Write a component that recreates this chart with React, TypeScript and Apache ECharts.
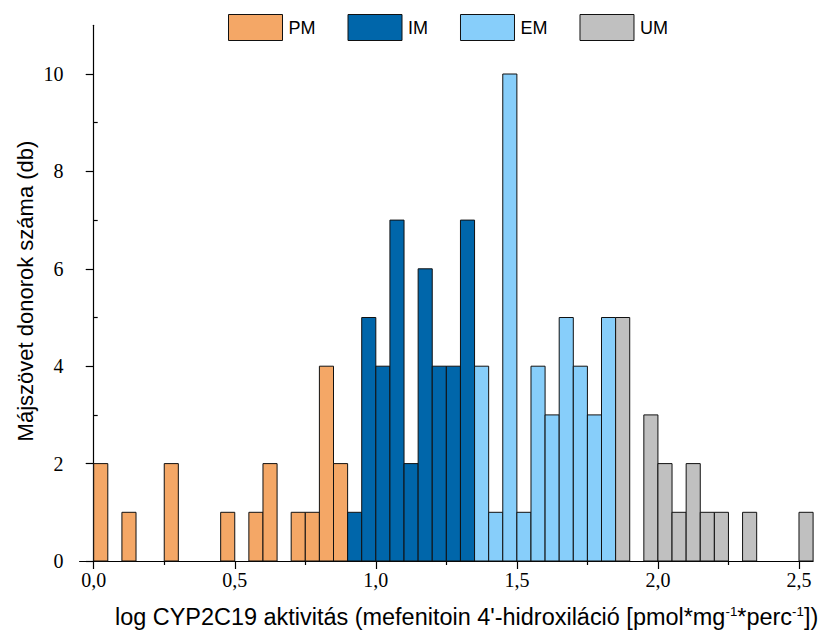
import React, { useEffect, useRef } from "react";
import * as echarts from "echarts";

const BIN_WIDTH = 0.05;

const pmBins = [0.0, 0.1, 0.25, 0.45, 0.55, 0.6, 0.7, 0.75, 0.8, 0.85];
const pmCounts = [2, 1, 2, 1, 1, 2, 1, 1, 4, 2];

const imBins = [0.9, 0.95, 1.0, 1.05, 1.1, 1.15, 1.2, 1.25, 1.3];
const imCounts = [1, 5, 4, 7, 2, 6, 4, 4, 7];

const emBins = [1.35, 1.4, 1.45, 1.5, 1.55, 1.6, 1.65, 1.7, 1.75, 1.8];
const emCounts = [4, 1, 10, 1, 4, 3, 5, 4, 3, 5];

const umBins = [1.85, 1.95, 2.0, 2.05, 2.1, 2.15, 2.2, 2.3, 2.5];
const umCounts = [5, 3, 2, 1, 2, 1, 1, 1, 1];

const xMajorTicks = [0, 0.5, 1.0, 1.5, 2.0, 2.5];
const xMinorTicks = [0.25, 0.75, 1.25, 1.75, 2.25];
const yMajorTicks = [0, 2, 4, 6, 8, 10];
const yMinorTicks = [1, 3, 5, 7, 9];

const groups = [
  { name: "PM", bins: pmBins, counts: pmCounts, color: "#F4A766" },
  { name: "IM", bins: imBins, counts: imCounts, color: "#0066AA" },
  { name: "EM", bins: emBins, counts: emCounts, color: "#87CEFA" },
  { name: "UM", bins: umBins, counts: umCounts, color: "#C0C0C0" },
];

const SANS = "'Liberation Sans', Arial, sans-serif";
const SERIF = "'Liberation Serif', 'Times New Roman', serif";

export default function App() {
  const ref = useRef<HTMLDivElement>(null);

  useEffect(() => {
    if (!ref.current) return;
    const chart = echarts.init(ref.current, undefined, { renderer: "svg" });

    const series = groups.map((g) => ({
      name: g.name,
      type: "custom",
      xAxisIndex: 0,
      yAxisIndex: 0,
      itemStyle: { color: g.color, borderColor: "#111", borderWidth: 1 },
      encode: { x: 0, y: 1 },
      data: g.bins.map((b, i) => [b, g.counts[i]]),
      renderItem: (params: any, api: any) => {
        const x0 = api.value(0);
        const c = api.value(1);
        const p0 = api.coord([x0, c]);
        const p1 = api.coord([x0 + BIN_WIDTH, 0]);
        return {
          type: "rect",
          shape: { x: p0[0], y: p0[1], width: p1[0] - p0[0], height: p1[1] - p0[1] },
          style: { fill: g.color, stroke: "#111", lineWidth: 1 },
        };
      },
    }));

    const fmt = (v: number) => v.toFixed(1).replace(".", ",");

    chart.setOption({
      animation: false,
      backgroundColor: "#fff",
      grid: { left: 79.6, right: 10.9, top: 25.3, bottom: 74, containLabel: false },
      legend: {
        top: 9,
        left: 223,
        icon: "rect",
        itemWidth: 54,
        itemHeight: 26,
        itemGap: 32,
        textStyle: { fontFamily: SANS, fontSize: 18, color: "#000", padding: [0, 0, 0, 1] },
        itemStyle: { borderColor: "#111", borderWidth: 1 },
        data: groups.map((g) => g.name),
      },
      xAxis: [
        {
          type: "value",
          min: -0.05,
          max: 2.55,
          position: "bottom",
          splitLine: { show: false },
          axisLine: { show: true, lineStyle: { color: "#000", width: 1.2 } },
          axisTick: {
            show: true,
            inside: false,
            length: 8,
            customValues: xMajorTicks,
            lineStyle: { color: "#000", width: 1.2 },
          },
          axisLabel: {
            show: true,
            customValues: xMajorTicks,
            formatter: fmt,
            margin: 9,
            fontFamily: SERIF,
            fontSize: 20,
            color: "#000",
          },
        },
        {
          type: "value",
          min: -0.05,
          max: 2.55,
          position: "bottom",
          splitLine: { show: false },
          axisLine: { show: false },
          axisTick: {
            show: true,
            inside: false,
            length: 4,
            customValues: xMinorTicks,
            lineStyle: { color: "#000", width: 1.2 },
          },
          axisLabel: { show: false },
        },
      ],
      yAxis: [
        {
          type: "value",
          min: 0,
          max: 11,
          splitLine: { show: false },
          axisLine: { show: true, lineStyle: { color: "#000", width: 1.2 } },
          axisTick: {
            show: true,
            inside: false,
            length: 8,
            customValues: yMajorTicks,
            lineStyle: { color: "#000", width: 1.2 },
          },
          axisLabel: {
            show: true,
            customValues: yMajorTicks,
            margin: 16,
            fontFamily: SERIF,
            fontSize: 20,
            color: "#000",
          },
        },
        {
          type: "value",
          min: 0,
          max: 11,
          splitLine: { show: false },
          axisLine: { show: false },
          axisTick: {
            show: true,
            inside: false,
            length: 4,
            customValues: yMinorTicks,
            lineStyle: { color: "#000", width: 1.2 },
          },
          axisLabel: { show: false },
        },
      ],
      graphic: [
        {
          type: "text",
          x: 466.5,
          y: 617,
          scaleX: 1.02,
          style: {
            text: "log CYP2C19 aktivitás (mefenitoin 4'-hidroxiláció [pmol*mg{sup|-1}*perc{sup|-1}])",
            fontFamily: SANS,
            fontSize: 23,
            fill: "#000",
            align: "center",
            verticalAlign: "middle",
            rich: {
              sup: { fontFamily: SANS, fontSize: 13, verticalAlign: "top", fill: "#000" },
            },
          },
        },
        {
          type: "text",
          x: 25,
          y: 291,
          rotation: Math.PI / 2,
          style: {
            text: "Májszövet donorok száma (db)",
            fontFamily: SANS,
            fontSize: 22,
            fill: "#000",
            align: "center",
            verticalAlign: "middle",
          },
        },
      ],
      series,
    });

    return () => chart.dispose();
  }, []);

  return <div ref={ref} style={{ width: 824, height: 635, position: "absolute", left: 0, top: 0 }} />;
}
